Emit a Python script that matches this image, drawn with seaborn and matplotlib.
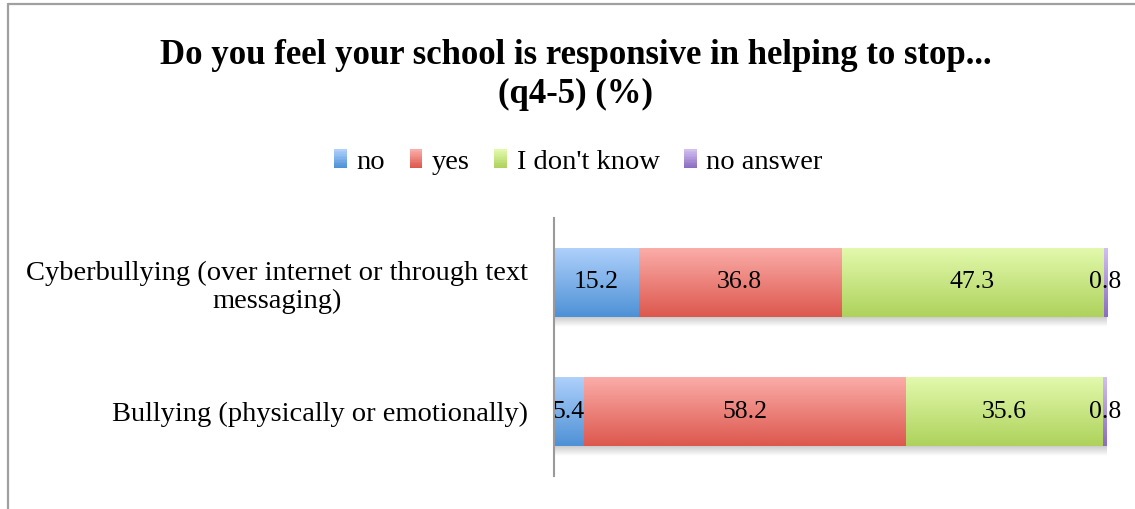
import numpy as np
import pandas as pd
import matplotlib
matplotlib.use("Agg")
import matplotlib.pyplot as plt
from matplotlib.lines import Line2D
from matplotlib.patches import Patch, Rectangle
from matplotlib.legend_handler import HandlerBase
import seaborn as sns

# Survey results, percent of respondents
categories = [
    "Cyberbullying (over internet or through text\nmessaging)",
    "Bullying (physically or emotionally)",
]
series_names = ["no", "yes", "I don't know", "no answer"]
no_vals = [15.2, 5.4]
yes_vals = [36.8, 58.2]
dontknow_vals = [47.3, 35.6]
noanswer_vals = [0.8, 0.8]

title = "Do you feel your school is responsive in helping to stop...\n(q4-5) (%)"

# gradient colours per series: (top, bottom)
grad_colors = {
    "no": ("#aed0fb", "#4e91d6"),
    "yes": ("#fbaca8", "#dc584e"),
    "I don't know": ("#e2f9ac", "#aed25c"),
    "no answer": ("#d0bff0", "#8c6cc0"),
}


def gradient(top, bot, n):
    c_top = np.array(matplotlib.colors.to_rgb(top))
    c_bot = np.array(matplotlib.colors.to_rgb(bot))
    t = np.linspace(0, 1, n)[:, None]
    return c_top[None, :] * (1 - t) + c_bot[None, :] * t


class GradientHandler(HandlerBase):
    """Legend key drawn as a stack of thin stripes, light at the top."""

    def create_artists(self, legend, orig_handle, xdescent, ydescent, width, height,
                       fontsize, trans):
        top, bot = orig_handle.gradient_pair
        n = 12
        cols = gradient(top, bot, n)
        arts = []
        for j in range(n):
            y = -ydescent + height * (1 - (j + 1) / n)
            r = Rectangle((-xdescent, y), width, height / n + 0.02, facecolor=cols[j],
                          edgecolor="none", linewidth=0, transform=trans)
            arts.append(r)
        return arts


sns.set_theme(style="white")
plt.rcParams["font.family"] = ["Liberation Serif", "DejaVu Serif"]
plt.rcParams["text.color"] = "black"
plt.rcParams["ytick.color"] = "black"

values = pd.DataFrame(
    {"no": no_vals, "yes": yes_vals, "I don't know": dontknow_vals, "no answer": noanswer_vals},
    index=categories,
)
cum = values.cumsum(axis=1)

fig = plt.figure(figsize=(11.35, 5.09), dpi=100)
ax = fig.add_axes([554 / 1135, 1 - 476 / 509, 553 / 1135, 258 / 509])

bar_h = 0.53
# stacked bars: draw cumulative totals from the back to the front
draw_order = series_names[::-1]
for k, name in enumerate(draw_order):
    df = pd.DataFrame({"cat": categories, "val": cum[name].values})
    n_before = len(ax.patches)
    sns.barplot(data=df, x="val", y="cat", orient="h", ax=ax, color=grad_colors[name][1],
                width=bar_h, linewidth=0, zorder=2 + k)
    grad = gradient(*grad_colors[name], 64)[:, None, :]
    for p in ax.patches[n_before:]:
        x0, y0, w, h = p.get_x(), p.get_y(), p.get_width(), p.get_height()
        im = ax.imshow(grad, extent=(x0, x0 + w, y0 + h, y0), origin="upper",
                       aspect="auto", zorder=2 + k + 0.1, interpolation="bilinear")
        im.set_clip_path(p)

# soft shadow under each whole bar
shadow_depth = 0.08
for i, cat in enumerate(categories):
    total = cum["no answer"].iloc[i]
    y_b = i + bar_h / 2
    alpha = np.linspace(0.4, 0.0, 32)[:, None]
    rgba = np.zeros((32, 1, 4))
    rgba[..., :3] = 0.45
    rgba[..., 3] = alpha
    ax.imshow(rgba, extent=(0, total + 0.6, y_b + shadow_depth, y_b), origin="upper",
              aspect="auto", zorder=1.5, interpolation="bilinear")

# value labels centered in each segment
for i, cat in enumerate(categories):
    for name in series_names:
        v = values.loc[cat, name]
        center = cum.loc[cat, name] - v / 2
        ax.text(center, i, f"{v:.1f}", ha="center", va="center", fontsize=18.5,
                color="black", zorder=20)

ax.set_xlim(0, 100)
ax.set_ylim(1.5, -0.5)
ax.set_xlabel("")
ax.set_ylabel("")
ax.set_xticks([])
ax.tick_params(axis="y", length=0, pad=19, labelsize=20.5, labelcolor="black")
for lab in ax.get_yticklabels():
    lab.set_multialignment("center")
    lab.set_linespacing(1.2)
for s in ["top", "right", "bottom"]:
    ax.spines[s].set_visible(False)
ax.spines["left"].set_color("#9a9a9a")
ax.spines["left"].set_linewidth(1.5)
ax.spines["left"].set_zorder(30)

fig.suptitle(title, x=0.507, y=1 - 75 / 509, va="center", fontsize=25,
             fontweight="bold", linespacing=1.24, color="black")

handles = []
for n in series_names:
    h = Patch(facecolor=grad_colors[n][1], edgecolor="none")
    h.gradient_pair = grad_colors[n]
    handles.append(h)
fig.legend(handles, series_names, loc="center", bbox_to_anchor=(0.5097, 1 - 162 / 509), ncol=4,
           frameon=False, fontsize=20.5, handlelength=0.45, handleheight=0.65,
           handletextpad=0.34, columnspacing=0.85, handler_map={Patch: GradientHandler()})

# outer chart frame (left and top edges)
frame_col = "#a0a0a0"
fig.add_artist(Line2D([7.5 / 1135, 7.5 / 1135], [0, 1 - 4 / 509], color=frame_col, lw=1.6))
fig.add_artist(Line2D([7.5 / 1135, 1], [1 - 4 / 509, 1 - 4 / 509], color=frame_col, lw=1.6))

fig.savefig("out.png", dpi=100, facecolor="white")
